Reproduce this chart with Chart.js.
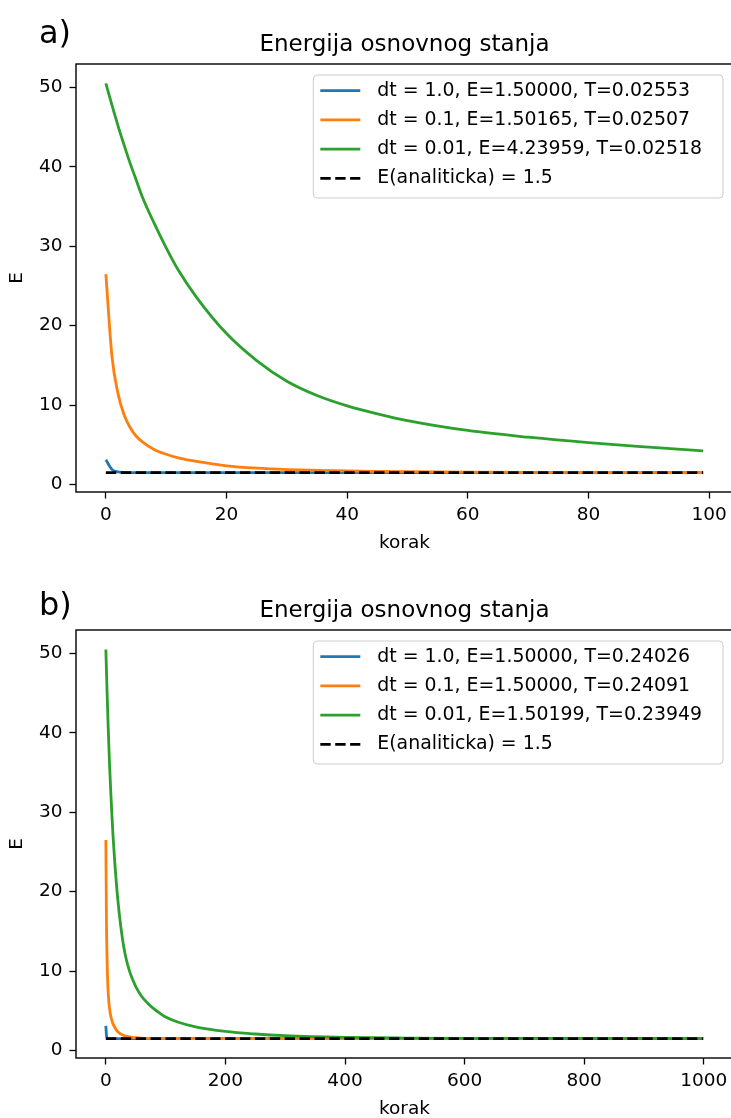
<!DOCTYPE html>
<html>
<head>
<meta charset="utf-8">
<script src="https://cdn.jsdelivr.net/npm/chart.js@4.4.1/dist/chart.umd.min.js"></script>
<style>
  html, body { margin: 0; padding: 0; background: #fff; }
  body { width: 731px; height: 1118px; overflow: hidden; position: relative; font-family: "DejaVu Sans", sans-serif; }
  canvas { position: absolute; left: 0; }
  .tag { position: absolute; left: 39px; font-size: 32px; line-height: 1; color: #000; }
</style>
</head>
<body>
<canvas id="chartA" width="760" height="559" style="top:0px"></canvas>
<canvas id="chartB" width="760" height="559" style="top:566px"></canvas>
<div class="tag" style="top:16px">a)</div>
<div class="tag" style="top:588px">b)</div>
<script>
// panel a) - 100 koraka
const stepsA = [0, 1, 2, 3, 4, 5, 6, 8, 10, 12, 15, 20, 25, 30, 35, 40, 45, 50, 60, 70, 80, 90, 99];
const blueA = [3.1, 1.9, 1.58, 1.52, 1.5, 1.5, 1.5, 1.5, 1.5, 1.5, 1.5, 1.5, 1.5, 1.5, 1.5, 1.5, 1.5, 1.5, 1.5, 1.5, 1.5, 1.5, 1.5];
const orangeA = [26.5, 16.2, 11.5, 8.8, 7.2, 6.1, 5.4, 4.4, 3.8, 3.35, 2.9, 2.35, 2.05, 1.88, 1.78, 1.7, 1.65, 1.61, 1.56, 1.53, 1.52, 1.51, 1.5];
const greenA = [50.5, 47.8, 45.2, 42.8, 40.5, 38.4, 36.3, 32.9, 29.8, 27.0, 23.6, 19.0, 15.6, 13.0, 11.2, 9.9, 8.9, 8.05, 6.8, 5.95, 5.26, 4.7, 4.24];
const labelsA = ['dt = 1.0, E=1.50000, T=0.02553', 'dt = 0.1, E=1.50165, T=0.02507', 'dt = 0.01, E=4.23959, T=0.02518', 'E(analiticka) = 1.5'];
const xTicksA = [0, 20, 40, 60, 80, 100];

// panel b) - 1000 koraka
const stepsB = [0, 1, 2, 3, 4, 5, 6, 8, 10, 12, 15, 20, 25, 30, 35, 40, 45, 50, 60, 70, 80, 90, 100, 120, 150, 200, 250, 300, 400, 500, 600, 700, 800, 900, 999];
const blueB = [3.1, 1.9, 1.58, 1.52, 1.5, 1.5, 1.5, 1.5, 1.5, 1.5, 1.5, 1.5, 1.5, 1.5, 1.5, 1.5, 1.5, 1.5, 1.5, 1.5, 1.5, 1.5, 1.5, 1.5, 1.5, 1.5, 1.5, 1.5, 1.5, 1.5, 1.5, 1.5, 1.5, 1.5, 1.5];
const orangeB = [26.5, 16.2, 11.5, 8.8, 7.2, 6.1, 5.4, 4.4, 3.8, 3.35, 2.9, 2.35, 2.05, 1.88, 1.78, 1.7, 1.65, 1.61, 1.56, 1.53, 1.52, 1.51, 1.505, 1.5, 1.5, 1.5, 1.5, 1.5, 1.5, 1.5, 1.5, 1.5, 1.5, 1.5, 1.5];
const greenB = [50.5, 47.8, 45.2, 42.8, 40.5, 38.4, 36.3, 32.9, 29.8, 27.0, 23.6, 19.0, 15.6, 13.0, 11.2, 9.9, 8.9, 8.05, 6.8, 5.95, 5.26, 4.7, 4.2, 3.58, 2.97, 2.39, 2.07, 1.86, 1.65, 1.564, 1.528, 1.513, 1.507, 1.504, 1.502];
const labelsB = ['dt = 1.0, E=1.50000, T=0.24026', 'dt = 0.1, E=1.50000, T=0.24091', 'dt = 0.01, E=1.50199, T=0.23949', 'E(analiticka) = 1.5'];
const xTicksB = [0, 200, 400, 600, 800, 1000];

const analyticE = 1.5;
const yTicks = [0, 10, 20, 30, 40, 50];
const titleText = 'Energija osnovnog stanja';

const FONT = '"DejaVu Sans", sans-serif';
Chart.defaults.font.family = FONT;
Chart.defaults.color = '#000';

// okvir oko osi (sve cetiri strane)
const axesFrame = {
    id: 'axesFrame',
    afterDatasetsDraw(chart) {
        const { ctx, chartArea: a } = chart;
        ctx.save();
        ctx.strokeStyle = '#000';
        ctx.lineWidth = 1.4;
        ctx.strokeRect(a.left, a.top, a.right - a.left, a.bottom - a.top);
        ctx.restore();
    }
};

// legenda u gornjem desnom kutu, kao u matplotlibu
const boxLegend = {
    id: 'boxLegend',
    afterDatasetsDraw(chart) {
        const { ctx, chartArea: a } = chart;
        const items = chart.data.datasets;
        ctx.save();
        ctx.font = '18.9px ' + FONT;
        const textW = Math.max(...items.map(d => ctx.measureText(d.label).width));
        const w = 64 + textW + 21;
        const h = 123;
        const rowH = 29.2;
        const x0 = a.right - 10 - w;
        const y0 = a.top + 11;

        ctx.beginPath();
        ctx.roundRect(x0, y0, w, h, 4);
        ctx.fillStyle = 'rgba(255,255,255,0.8)';
        ctx.fill();
        ctx.strokeStyle = '#cccccc';
        ctx.lineWidth = 1;
        ctx.stroke();

        items.forEach((d, i) => {
            const y = y0 + 15.7 + i * rowH;
            ctx.beginPath();
            ctx.setLineDash(d.borderDash || []);
            ctx.strokeStyle = d.borderColor;
            ctx.lineWidth = d.borderWidth;
            ctx.moveTo(x0 + 7, y);
            ctx.lineTo(x0 + 47, y);
            ctx.stroke();
            ctx.setLineDash([]);
            ctx.fillStyle = '#000';
            ctx.textAlign = 'left';
            ctx.textBaseline = 'middle';
            ctx.fillText(d.label, x0 + 64, y);
        });
        ctx.restore();
    }
};

function toPoints(xs, ys) {
    return xs.map((x, i) => ({ x: x, y: ys[i] }));
}

function makeChart(id, steps, blue, orange, green, labels, xTicks) {
    const last = steps[steps.length - 1];
    const margin = last * 0.05;
    const ctx = document.getElementById(id);

    const lineStyle = {
        borderWidth: 2.8,
        pointRadius: 0,
        fill: false,
        cubicInterpolationMode: 'monotone'
    };

    return new Chart(ctx, {
        type: 'line',
        data: {
            datasets: [
                { ...lineStyle, label: labels[0], data: toPoints(steps, blue), borderColor: '#1f77b4', order: 3 },
                { ...lineStyle, label: labels[1], data: toPoints(steps, orange), borderColor: '#ff7f0e', order: 2 },
                { ...lineStyle, label: labels[2], data: toPoints(steps, green), borderColor: '#2ca02c', order: 1 },
                {
                    ...lineStyle,
                    label: labels[3],
                    data: [{ x: steps[0], y: analyticE }, { x: last, y: analyticE }],
                    borderColor: '#000000',
                    borderDash: [10.4, 4.5],
                    order: 0
                }
            ]
        },
        options: {
            responsive: false,
            animation: false,
            events: [],
            layout: { padding: { left: 0, right: 27, top: 0, bottom: 0 } },
            plugins: {
                legend: { display: false },
                tooltip: { enabled: false },
                title: {
                    display: true,
                    text: titleText,
                    fullSize: false,
                    color: '#000',
                    font: { size: 23, weight: 'normal' },
                    padding: { top: 31.2, bottom: 5.2 }
                }
            },
            scales: {
                x: {
                    type: 'linear',
                    min: -margin,
                    max: last + margin,
                    afterBuildTicks: axis => { axis.ticks = xTicks.map(v => ({ value: v })); },
                    afterFit: axis => { axis.height = 67; },
                    ticks: {
                        autoSkip: false,
                        maxRotation: 0,
                        padding: 5.4,
                        font: { size: 18.5 },
                        callback: v => String(v)
                    },
                    grid: {
                        drawOnChartArea: false,
                        drawTicks: true,
                        tickLength: 6.5,
                        tickWidth: 1.3,
                        tickColor: '#000'
                    },
                    border: { display: false },
                    title: {
                        display: true,
                        text: 'korak',
                        font: { size: 18.5 },
                        padding: { top: 0, bottom: 4.9 }
                    }
                },
                y: {
                    min: analyticE - 2.45,
                    max: 50.5 + 2.45,
                    afterBuildTicks: axis => { axis.ticks = yTicks.map(v => ({ value: v })); },
                    afterFit: axis => { axis.width = 76; },
                    ticks: {
                        padding: 7,
                        font: { size: 18.5 },
                        callback: v => String(v)
                    },
                    grid: {
                        drawOnChartArea: false,
                        drawTicks: true,
                        tickLength: 6.5,
                        tickWidth: 1.3,
                        tickColor: '#000'
                    },
                    border: { display: false },
                    title: {
                        display: true,
                        text: 'E',
                        font: { size: 18.5 },
                        padding: { top: 6, bottom: 0 }
                    }
                }
            }
        },
        plugins: [axesFrame, boxLegend]
    });
}

makeChart('chartA', stepsA, blueA, orangeA, greenA, labelsA, xTicksA);
makeChart('chartB', stepsB, blueB, orangeB, greenB, labelsB, xTicksB);
</script>
</body>
</html>
